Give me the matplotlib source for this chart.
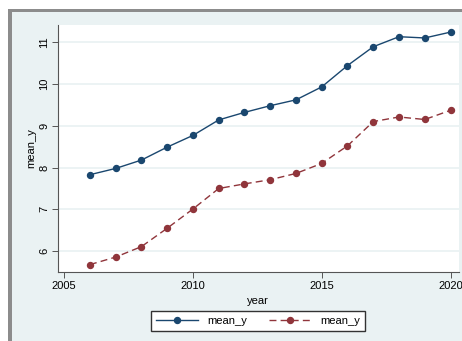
import numpy as np
import matplotlib.pyplot as plt
from matplotlib.patches import Rectangle

plt.rcParams['font.family'] = ['Liberation Sans', 'DejaVu Sans']

# data
years = [2006, 2007, 2008, 2009, 2010, 2011, 2012, 2013, 2014, 2015, 2016, 2017, 2018, 2019, 2020]
mean_y_1 = [7.83, 7.98, 8.18, 8.49, 8.77, 9.14, 9.32, 9.48, 9.62, 9.93, 10.44, 10.89, 11.13, 11.10, 11.24]
mean_y_2 = [5.68, 5.86, 6.11, 6.55, 7.01, 7.50, 7.61, 7.71, 7.86, 8.10, 8.52, 9.10, 9.21, 9.15, 9.37]
xticks = [2005, 2010, 2015, 2020]
yticks = [6, 7, 8, 9, 10, 11]

navy = '#1a476f'
maroon = '#90353b'
bg = '#eaf2f3'

W, H = 462, 341
fig = plt.figure(figsize=(W / 100, H / 100), dpi=100, facecolor='white')

# screenshot frame: gray border on top/left, light Stata background
fig.patches.append(Rectangle((8 / W, 0), 1, 1 - 9 / H, transform=fig.transFigure,
                             facecolor='#8c8c8c', edgecolor='none', zorder=-10))
fig.patches.append(Rectangle((12 / W, 0), 1, 1 - 12 / H, transform=fig.transFigure,
                             facecolor=bg, edgecolor='none', zorder=-9))

ax = fig.add_axes([57.5 / W, 1 - 271.7 / H, 401 / W, 246.7 / H])
ax.set_facecolor('white')

ax.plot(years, mean_y_1, color=navy, lw=1.0, marker='o', ms=4.3, label='mean_y')
ax.plot(years, mean_y_2, color=maroon, lw=1.0, ls=(0, (5, 3)), marker='o', ms=4.3, label='mean_y')

ax.set_xlim(2004.74, 2020.31)
ax.set_ylim(5.51, 11.41)
ax.set_xticks(xticks)
ax.set_yticks(yticks)
ax.yaxis.grid(True, color=bg, lw=1.3)
ax.set_axisbelow(True)

for s in ['top', 'right']:
    ax.spines[s].set_visible(False)
for s in ['left', 'bottom']:
    ax.spines[s].set_color('#555555')
    ax.spines[s].set_linewidth(0.8)

ax.tick_params(axis='both', length=4, width=0.7, color='#555555', labelsize=8, pad=3)
ax.tick_params(axis='y', pad=2)
for lab in ax.get_yticklabels():
    lab.set_rotation(90)
    lab.set_va('center')

ax.set_xlabel('year', fontsize=8, labelpad=3)
ax.set_ylabel('mean_y', fontsize=8, labelpad=2)

fig.legend(loc='center', bbox_to_anchor=(258 / W, 1 - 320.5 / H), ncol=2,
           fontsize=8, frameon=True, fancybox=False, edgecolor='#333333',
           framealpha=1, handlelength=3.8, columnspacing=2.0, borderpad=0.45)

fig.savefig('out.png', dpi=100, facecolor=fig.get_facecolor())
